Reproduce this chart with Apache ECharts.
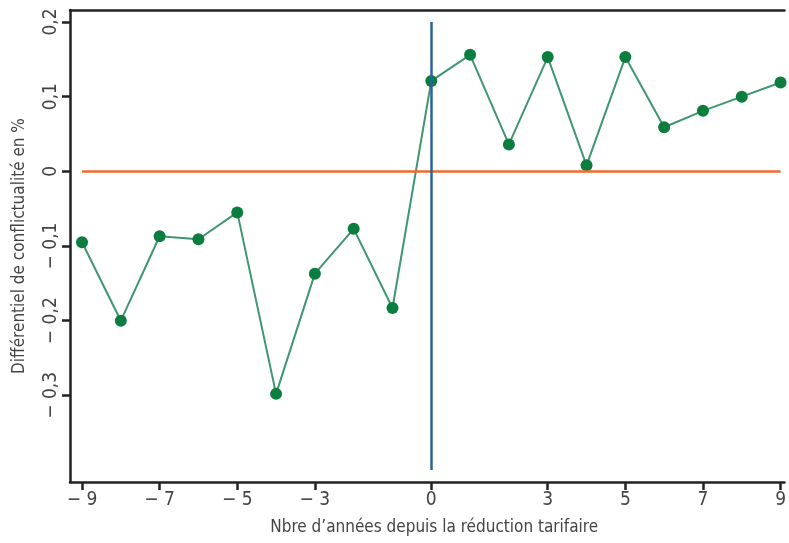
<!DOCTYPE html>
<html>
<head>
<meta charset="utf-8">
<script src="https://cdn.jsdelivr.net/npm/echarts@6/dist/echarts.min.js"></script>
<style>
  html, body { margin: 0; padding: 0; background: #fff; }
  #chart { width: 789px; height: 543px; }
</style>
</head>
<body>
<div id="chart"></div>
<script>
// données
var annees = [-9, -8, -7, -6, -5, -4, -3, -2, -1, 0, 1, 2, 3, 4, 5, 6, 7, 8, 9];
var differentiel = [-0.095, -0.200, -0.087, -0.091, -0.055, -0.298, -0.137, -0.077, -0.183,
                    0.121, 0.156, 0.036, 0.153, 0.008, 0.153, 0.059, 0.081, 0.100, 0.119];
var xTicks = [-9, -7, -5, -3, 0, 3, 5, 7, 9];
var yTicks = [-0.3, -0.2, -0.1, 0, 0.1, 0.2];

var police = '"Liberation Sans Narrow", "DejaVu Sans Condensed", "Open Sans", sans-serif';

function fmtX(v) {
    return v < 0 ? '\u2212 ' + Math.abs(v) : String(v);
}
function fmtY(v) {
    if (Math.abs(v) < 1e-9) return '0';
    var s = Math.abs(v).toFixed(1).replace('.', ',');
    return v < 0 ? '\u2212 ' + s : s;
}

var points = annees.map(function (a, i) { return [a, differentiel[i]]; });

var myChart = echarts.init(document.getElementById('chart'));
var option = {
    animation: false,
    grid: { left: 70, right: 0, top: 10, bottom: 61 },
    xAxis: [{
        type: 'value',
        min: -9.31,
        max: 9.1,
        splitLine: { show: false },
        axisLine: { onZero: false, lineStyle: { color: '#222', width: 2.5 } },
        axisTick: { show: true, customValues: xTicks, length: 8, lineStyle: { color: '#222', width: 2.5 } },
        axisLabel: { customValues: xTicks, formatter: fmtX, color: '#444', fontSize: 19, fontFamily: police, margin: 9 },
        name: 'Nbre d\u2019ann\u00e9es depuis la r\u00e9duction tarifaire',
        nameLocation: 'middle',
        nameGap: 37,
        nameTextStyle: { color: '#444', fontSize: 17, fontFamily: police, padding: [0, 0, 0, 14] }
    }, {
        // bord supérieur du cadre
        type: 'value',
        position: 'top',
        min: -9.31,
        max: 9.1,
        splitLine: { show: false },
        axisLine: { show: true, onZero: false, lineStyle: { color: '#222', width: 2.5 } },
        axisTick: { show: false },
        axisLabel: { show: false }
    }],
    yAxis: {
        type: 'value',
        min: -0.416,
        max: 0.216,
        splitLine: { show: false },
        axisLine: { show: true, onZero: false, lineStyle: { color: '#222', width: 2.5 } },
        axisTick: { show: true, customValues: yTicks, length: 8, lineStyle: { color: '#222', width: 2.5 } },
        axisLabel: { customValues: yTicks, formatter: fmtY, rotate: 90, color: '#444', fontSize: 19, fontFamily: police, margin: 9 },
        name: 'Diff\u00e9rentiel de conflictualit\u00e9 en %',
        nameLocation: 'middle',
        nameGap: 42,
        nameTextStyle: { color: '#444', fontSize: 17, fontFamily: police }
    },
    series: [{
        // lignes de référence
        type: 'line',
        data: [],
        silent: true,
        markLine: {
            symbol: 'none',
            silent: true,
            label: { show: false },
            data: [
                [{ coord: [-9, 0], lineStyle: { color: '#f26a2c', width: 2.5, type: 'solid' } }, { coord: [9, 0] }],
                [{ coord: [0, 0.2], lineStyle: { color: '#2b6395', width: 2.5, type: 'solid' } }, { coord: [0, -0.4] }]
            ]
        }
    }, {
        type: 'line',
        data: points,
        symbol: 'circle',
        symbolSize: 12,
        z: 3,
        lineStyle: { color: '#3f9670', width: 2 },
        itemStyle: { color: '#0a7d3f' }
    }]
};

myChart.setOption(option);
</script>
</body>
</html>
